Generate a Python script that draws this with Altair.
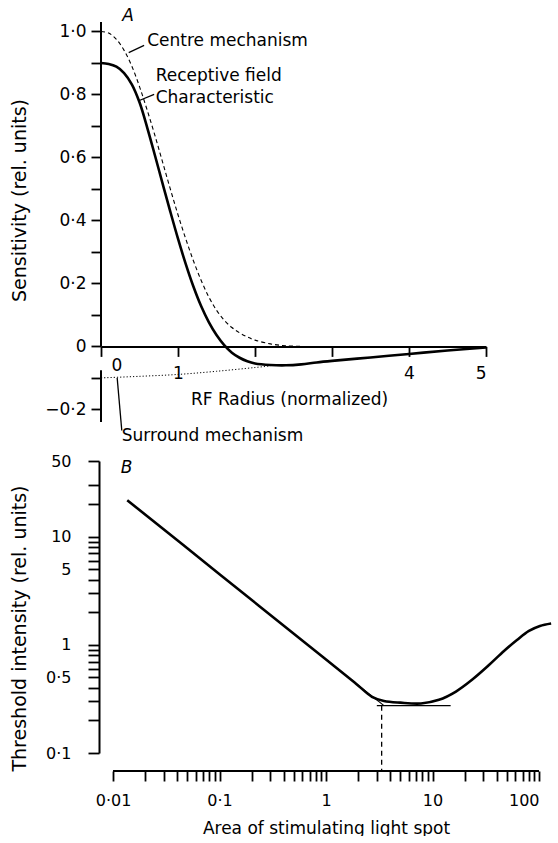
import altair as alt
import pandas as pd

# ---------------- Panel A data ----------------
centre_x = [0, 0.1, 0.2, 0.3, 0.4, 0.5, 0.6, 0.7, 0.8, 0.9, 1.0, 1.1, 1.2, 1.3, 1.4, 1.5,
            1.6, 1.7, 1.8, 1.9, 2.0, 2.2, 2.4, 2.6]
centre_y = [1.0, 0.995, 0.975, 0.94, 0.89, 0.825, 0.75, 0.67, 0.585, 0.50, 0.418, 0.342,
            0.272, 0.21, 0.157, 0.115, 0.083, 0.06, 0.043, 0.03, 0.02, 0.008, 0.002, 0.0]

rf_x = [0, 0.1, 0.2, 0.3, 0.4, 0.5, 0.6, 0.7, 0.8, 0.9, 1.0, 1.1, 1.2, 1.3, 1.4, 1.5, 1.6,
        1.7, 1.8, 1.9, 2.0, 2.2, 2.4, 2.6, 2.8, 3.0, 3.5, 4.0, 4.5, 5.0]
rf_y = [0.90, 0.897, 0.888, 0.868, 0.832, 0.775, 0.695, 0.607, 0.517, 0.428, 0.342, 0.262,
        0.19, 0.128, 0.077, 0.036, 0.004, -0.02, -0.036, -0.047, -0.054, -0.059, -0.06,
        -0.057, -0.051, -0.046, -0.035, -0.024, -0.013, -0.003]

surround_x = [0, 0.5, 1.0, 1.5, 2.0, 2.2]
surround_y = [-0.1, -0.095, -0.089, -0.079, -0.067, -0.062]

a_xticks = [0, 1, 2, 3, 4, 5]
a_xlabels_shown = [0, 1, 4, 5]
a_yticks = [-0.2, -0.1, 0.0, 0.1, 0.2, 0.3, 0.4, 0.5, 0.6, 0.7, 0.8, 0.9, 1.0]

a_text_x = [0.60, 0.71, 0.71, 0.27]
a_text_y = [0.97, 0.86, 0.79, -0.283]
a_text = ["Centre mechanism", "Receptive field", "Characteristic", "Surround mechanism"]

a_lead_x = [0.36, 0.49, 0.21]
a_lead_y = [0.933, 0.78, -0.10]
a_lead_x2 = [0.56, 0.69, 0.27]
a_lead_y2 = [0.956, 0.80, -0.267]

# ---------------- Panel B data ----------------
thr_x = [0.0136, 0.1, 1.0, 1.9, 2.7, 3.5, 5.0, 7.8, 11.5, 16.6, 23.5, 33.9, 46.9, 62.1,
         80.5, 102, 130]
thr_y = [21.7, 4.5, 0.73, 0.44, 0.331, 0.303, 0.292, 0.287, 0.31, 0.37, 0.475, 0.65,
         0.877, 1.107, 1.342, 1.492, 1.573]

tangent_x = [1.0, 3.5]
tangent_y = [0.73, 0.274]
floor_x = [3.0, 14.8]
floor_y = [0.274, 0.274]
opt_x = 3.33
opt_y = 0.274

b_xticks = [0.01, 0.02, 0.03, 0.04, 0.05, 0.06, 0.07, 0.08, 0.09,
            0.1, 0.2, 0.3, 0.4, 0.5, 0.6, 0.7, 0.8, 0.9,
            1, 2, 3, 4, 5, 6, 7, 8, 9,
            10, 20, 30, 40, 50, 60, 70, 80, 90, 100]
b_xlabels_shown = [0.01, 0.1, 1, 10, 100]
b_yticks = [0.1, 0.2, 0.3, 0.4, 0.5, 0.6, 0.7, 0.8, 0.9,
            1, 2, 3, 4, 5, 6, 7, 8, 9, 10, 20, 30, 50]
b_ylabels_shown = [0.1, 0.5, 1, 5, 10, 50]

FONT = "DejaVu Sans"

# ---------------- Panel A ----------------
xA = alt.X("x:Q",
           scale=alt.Scale(domain=[0, 5], nice=False, zero=False),
           axis=alt.Axis(values=a_xticks,
                         labelExpr="indexof(%s, datum.value) >= 0 ? datum.label : ''" % a_xlabels_shown,
                         offset=-75.6, tickSize=10, labelFontSize=17,
                         labelPadding={"condition": {"test": "datum.value == 0", "value": 1}, "value": 9},
                         labelOffset={"condition": {"test": "datum.value == 0", "value": 10}, "value": 0},
                         title="RF Radius (normalized)",
                         titleX=188, titleY=53, titleAlign="center", titleBaseline="middle"))
yA = alt.Y("y:Q",
           scale=alt.Scale(domain=[-0.24, 1.03], nice=False, zero=False),
           axis=alt.Axis(values=a_yticks, domain=False, tickSize=10, labelPadding=5,
                         labelFontSize=17,
                         labelExpr="indexof([10,8,6,4,2,-2], round(datum.value*10)) >= 0 ? "
                                   "replace(format(datum.value, '.1f'), '.', '·') : "
                                   "(round(datum.value*10) == 0 ? '0' : '')",
                         title="Sensitivity (rel. units)", titleFontSize=19,
                         titleX=-82, titleY=178, titleAngle=270,
                         titleAlign="center", titleBaseline="middle"))

dfA_centre = pd.DataFrame({"x": centre_x, "y": centre_y})
dfA_rf = pd.DataFrame({"x": rf_x, "y": rf_y})
dfA_sur = pd.DataFrame({"x": surround_x, "y": surround_y})
dfA_axis = pd.DataFrame({"x": [0, 0], "y": [0.0, -0.076], "y2": [1.03, -0.24]})
dfA_text = pd.DataFrame({"x": a_text_x, "y": a_text_y, "label": a_text})
dfA_lead = pd.DataFrame({"x": a_lead_x, "y": a_lead_y, "x2": a_lead_x2, "y2": a_lead_y2})
dfA_letter = pd.DataFrame({"x": [0.35], "y": [1.05], "label": ["A"]})

a_axisline = alt.Chart(dfA_axis).mark_rule(color="black", strokeWidth=2).encode(
    x=xA, y=yA, y2="y2:Q")
a_centre = alt.Chart(dfA_centre).mark_line(color="black", strokeWidth=1.1, strokeDash=[4, 3],
                                           interpolate="catmull-rom").encode(x=xA, y=yA)
a_rf = alt.Chart(dfA_rf).mark_line(color="black", strokeWidth=2.6,
                                   interpolate="catmull-rom").encode(x=xA, y=yA)
a_sur = alt.Chart(dfA_sur).mark_line(color="black", strokeWidth=1, strokeDash=[1.2, 2],
                                     interpolate="catmull-rom").encode(x=xA, y=yA)
a_lead = alt.Chart(dfA_lead).mark_rule(color="black", strokeWidth=1.3).encode(
    x=xA, y=yA, x2="x2:Q", y2="y2:Q")
a_text_l = alt.Chart(dfA_text).mark_text(align="left", baseline="middle", font=FONT,
                                         fontSize=17, color="black").encode(
    x=xA, y=yA, text="label:N")
a_letter = alt.Chart(dfA_letter).mark_text(align="center", baseline="middle", font=FONT,
                                           fontSize=17, fontStyle="italic", color="black").encode(
    x=xA, y=yA, text="label:N")

chartA = alt.layer(a_axisline, a_centre, a_rf, a_sur, a_lead, a_text_l, a_letter).properties(
    width=385, height=400)

# ---------------- Panel B ----------------
xB = alt.X("x:Q",
           scale=alt.Scale(type="log", domain=[0.00771, 100], nice=False, zero=False),
           axis=alt.Axis(values=b_xticks, domain=False, offset=18, tickSize=10, labelPadding=11,
                         labelExpr="indexof(%s, datum.value) >= 0 ? replace('' + datum.value, '.', '·') : ''" % b_xlabels_shown,
                         title="Area of stimulating light spot",
                         titleX=225, titleY=57, titleAlign="center", titleBaseline="middle"))
yB = alt.Y("y:Q",
           scale=alt.Scale(type="log", domain=[0.1, 50], nice=False, zero=False),
           axis=alt.Axis(values=b_yticks, offset=2, tickSize=11, labelPadding=17,
                         labelExpr="indexof(%s, datum.value) >= 0 ? replace('' + datum.value, '.', '·') : ''" % b_ylabels_shown,
                         title="Threshold intensity (rel. units)", titleFontSize=19,
                         titleX=-80, titleY=167, titleAngle=270,
                         titleAlign="center", titleBaseline="middle"))

dfB_thr = pd.DataFrame({"x": thr_x, "y": thr_y})
dfB_tan = pd.DataFrame({"x": tangent_x, "y": tangent_y})
dfB_floor = pd.DataFrame({"x": floor_x, "y": floor_y})
dfB_opt = pd.DataFrame({"x": [opt_x], "y": [opt_y], "y2": [0.068]})
dfB_axis = pd.DataFrame({"x": [0.01], "x2": [100], "y": [0.068]})
dfB_letter = pd.DataFrame({"x": [0.0134], "y": [43.5], "label": ["B"]})

b_axisline = alt.Chart(dfB_axis).mark_rule(color="black", strokeWidth=2).encode(
    x=xB, x2="x2:Q", y=yB)
b_thr = alt.Chart(dfB_thr).mark_line(color="black", strokeWidth=2.6,
                                     interpolate="catmull-rom").encode(x=xB, y=yB)
b_tan = alt.Chart(dfB_tan).mark_line(color="black", strokeWidth=1.2).encode(x=xB, y=yB)
b_floor = alt.Chart(dfB_floor).mark_line(color="black", strokeWidth=1.4).encode(x=xB, y=yB)
b_opt = alt.Chart(dfB_opt).mark_rule(color="black", strokeWidth=1.3, strokeDash=[5, 4]).encode(
    x=xB, y=yB, y2="y2:Q")
b_letter = alt.Chart(dfB_letter).mark_text(align="center", baseline="middle", font=FONT,
                                           fontSize=17, fontStyle="italic", color="black").encode(
    x=xB, y=yB, text="label:N")

chartB = alt.layer(b_axisline, b_tan, b_floor, b_opt, b_thr, b_letter).properties(
    width=438, height=292)

chart = alt.vconcat(chartA, chartB, spacing=9).properties(
    padding={"left": 10, "top": 6, "right": 0, "bottom": 0},
    background="white"
).configure_view(stroke=None).configure_axis(
    grid=False, domainColor="black", domainWidth=2, tickColor="black", tickWidth=1.8,
    labelColor="black", labelFont=FONT, labelFontSize=16, titleColor="black",
    titleFont=FONT, titleFontSize=17, titleFontWeight="normal"
)

chart.save("out.html", embed_options={"renderer": "svg", "actions": False})
